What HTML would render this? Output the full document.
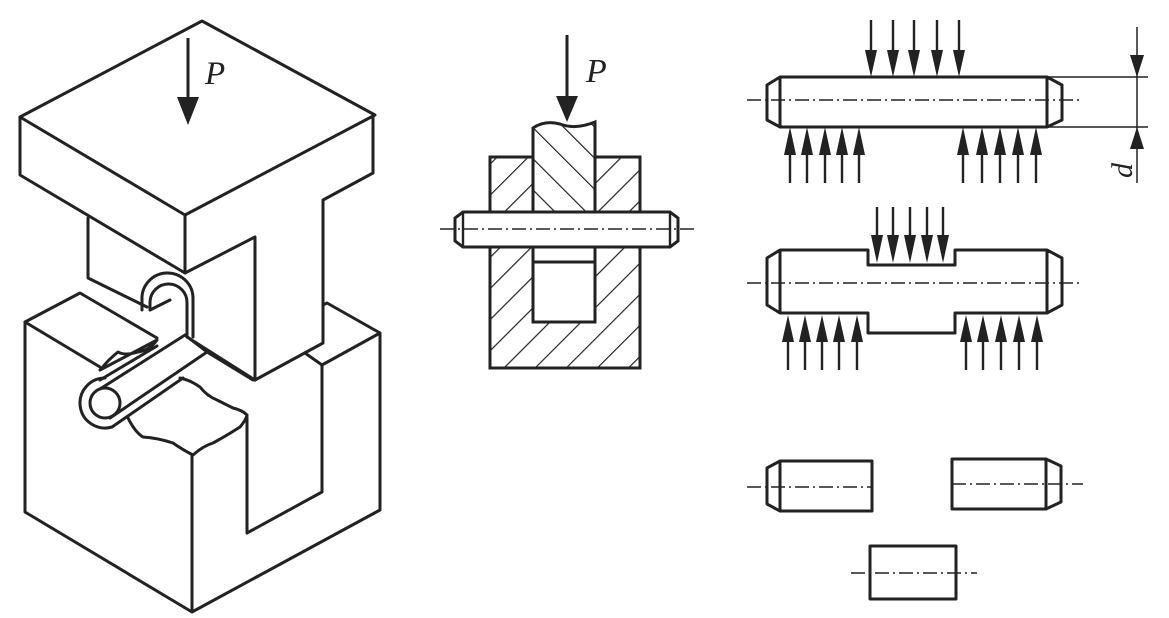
<!DOCTYPE html>
<html><head><meta charset="utf-8"><style>
html,body{margin:0;padding:0;background:#fff;}
svg{display:block;}
text{font-family:"Liberation Serif",serif;font-style:italic;fill:#222;}
</style></head><body>
<svg width="1169" height="618" viewBox="0 0 1169 618" xmlns="http://www.w3.org/2000/svg">
<defs>
<pattern id="h1" patternUnits="userSpaceOnUse" width="22" height="22" patternTransform="rotate(45)">
<rect width="22" height="22" fill="#fff"/><line x1="0" y1="0" x2="0" y2="22" stroke="#222" stroke-width="2.4"/></pattern>
<pattern id="h2" patternUnits="userSpaceOnUse" width="22" height="22" patternTransform="rotate(-45)">
<rect width="22" height="22" fill="#fff"/><line x1="0" y1="0" x2="0" y2="22" stroke="#222" stroke-width="2.4"/></pattern>
</defs>
<g fill="none" stroke="#222" stroke-width="3" stroke-linejoin="round" stroke-linecap="round">
<path d="M20 117 L202 21 L375 115 L185 215 Z"/>
<path d="M20 117 L20 175 L185 273 L185 215 M185 273 L255 237 L255 380 M373 115 L373 173 L323 200 L323 343 L255 380"/>
<path d="M88 218 L88 278 L147 307 M187 337 L255 380"/>
<path d="M25 322 L25 512 L192 612 L380 510 L380 333 L327 303 L323 305 M380 333 L322 365 L305 353 M322 365 L322 492 L247 533 L247 417 M192 455 L192 612"/>
<path d="M25 322 L100 367 M25 322 L80 293 L157 338"/>
<path d="M207 352 L253 380"/>
<path d="M142 310 L142 300 A25 25 0 0 1 193 297 L193 337"/>
<path d="M150 310 L150 302 A18 18 0 0 1 187 303 L187 337"/>
<path d="M150 310 L170 300"/>
<circle cx="105" cy="403" r="15"/>
<path d="M100 389 L185 335 M110 418 L207 352 M185 335 L207 352"/>
<path d="M105 378 A25 25 0 1 0 112 427 L183 378"/>
<path d="M100 370 L157 340 Q150 350 138 352 Q125 356 118 352 Q108 360 102 368 M100 380 L157 346"/>
<path d="M128 418 Q135 432 143 437 Q158 438 173 443 Q183 450 193 455 Q203 446 213 443 Q226 436 240 427 Q246 420 247 415"/>
<path d="M180 378 Q190 380 200 387 Q207 396 217 400 Q225 404 233 408 Q242 410 247 415"/>
</g>
<line x1="188" y1="38" x2="188" y2="100" stroke="#222" stroke-width="3"/>
<polygon points="177,97 199,97 188,125" fill="#222"/>
<text x="205" y="84" font-size="33">P</text>

<rect x="490" y="157" width="150" height="211" fill="url(#h1)" stroke="#222" stroke-width="3"/>
<rect x="533" y="247" width="62" height="75" fill="#fff" stroke="#222" stroke-width="3"/>
<line x1="533" y1="262" x2="595" y2="262" stroke="#222" stroke-width="3"/>
<path d="M533 212 L533 128 Q545 120 560 124 Q575 130 595 122 L595 212 Z" fill="url(#h2)" stroke="#222" stroke-width="3"/>
<path d="M463 212 L670 212 L678 218 L678 241 L670 247 L463 247 L455 241 L455 218 Z" fill="#fff" stroke="#222" stroke-width="3"/>
<path d="M463 212 L463 247 M670 212 L670 247" stroke="#222" stroke-width="2.4"/>
<line x1="440" y1="229" x2="695" y2="229" stroke="#222" stroke-width="1.5" stroke-dasharray="14 4 2 4"/>
<line x1="567" y1="35" x2="567" y2="100" stroke="#222" stroke-width="3"/>
<polygon points="556,96 578,96 567,122" fill="#222"/>
<text x="586" y="82" font-size="34">P</text>

<g fill="none" stroke="#222" stroke-width="3" stroke-linejoin="round">
<path d="M780 77 L1047 77 L1062 85 L1062 120 L1047 127 L780 127 L767 120 L767 85 Z M780 77 L780 127 M1047 77 L1047 127"/>
<path d="M780 250 L868 250 L868 265 L955 265 L955 250 L1047 250 L1062 258 L1062 305 L1047 313 L955 313 L955 333 L868 333 L868 313 L780 313 L767 305 L767 258 Z M780 250 L780 313 M1047 250 L1047 313"/>
<path d="M780 461 L872 461 L872 511 L780 511 L767 504 L767 468 Z M780 461 L780 511"/>
<path d="M952 459 L1046 459 L1061 466 L1061 502 L1046 509 L952 509 Z M1046 459 L1046 509"/>
<rect x="870" y="546" width="86" height="53"/>
</g>
<g stroke="#222" stroke-width="1.5" stroke-dasharray="14 4 2 4">
<line x1="747" y1="100" x2="1083" y2="100"/>
<line x1="747" y1="283" x2="1083" y2="283"/>
<line x1="747" y1="487" x2="872" y2="487"/>
<line x1="952" y1="484" x2="1083" y2="484"/>
<line x1="851" y1="573" x2="977" y2="573"/>
</g>
<g stroke="#222" stroke-width="1.5">
<line x1="1047" y1="77" x2="1148" y2="77"/>
<line x1="1047" y1="127" x2="1148" y2="127"/>
<line x1="1137" y1="27" x2="1137" y2="183"/>
</g>
<polygon points="1130,55 1144,55 1137,77" fill="#222"/>
<polygon points="1130,149 1144,149 1137,127" fill="#222"/>
<text transform="translate(1132,178) rotate(-90)" font-size="30">d</text>

<g stroke="#222" stroke-width="2.4" fill="#222">
<path d="M871 20 V60 M893 20 V60 M914 20 V60 M937 20 V60 M959 20 V60"/>
<path d="M865 50 L877 50 L871 77 Z M887 50 L899 50 L893 77 Z M908 50 L920 50 L914 77 Z M931 50 L943 50 L937 77 Z M953 50 L965 50 L959 77 Z" stroke="none"/>
<path d="M790 183 V145 M807 183 V145 M825 183 V145 M842 183 V145 M859 183 V145 M963 183 V145 M982 183 V145 M1000 183 V145 M1018 183 V145 M1036 183 V145"/>
<path d="M784 155 L796 155 L790 127 Z M801 155 L813 155 L807 127 Z M819 155 L831 155 L825 127 Z M836 155 L848 155 L842 127 Z M853 155 L865 155 L859 127 Z M957 155 L969 155 L963 127 Z M976 155 L988 155 L982 127 Z M994 155 L1006 155 L1000 127 Z M1012 155 L1024 155 L1018 127 Z M1030 155 L1042 155 L1036 127 Z" stroke="none"/>
<path d="M877 207 V240 M893 207 V240 M910 207 V240 M927 207 V240 M943 207 V240"/>
<path d="M871 235 L883 235 L877 263 Z M887 235 L899 235 L893 263 Z M904 235 L916 235 L910 263 Z M921 235 L933 235 L927 263 Z M937 235 L949 235 L943 263 Z" stroke="none"/>
<path d="M788 370 V335 M805 370 V335 M822 370 V335 M839 370 V335 M857 370 V335 M966 370 V335 M983 370 V335 M1001 370 V335 M1019 370 V335 M1037 370 V335"/>
<path d="M782 342 L794 342 L788 315 Z M799 342 L811 342 L805 315 Z M816 342 L828 342 L822 315 Z M833 342 L845 342 L839 315 Z M851 342 L863 342 L857 315 Z M960 342 L972 342 L966 315 Z M977 342 L989 342 L983 315 Z M995 342 L1007 342 L1001 315 Z M1013 342 L1025 342 L1019 315 Z M1031 342 L1043 342 L1037 315 Z" stroke="none"/>
</g>
</svg>
</body></html>
